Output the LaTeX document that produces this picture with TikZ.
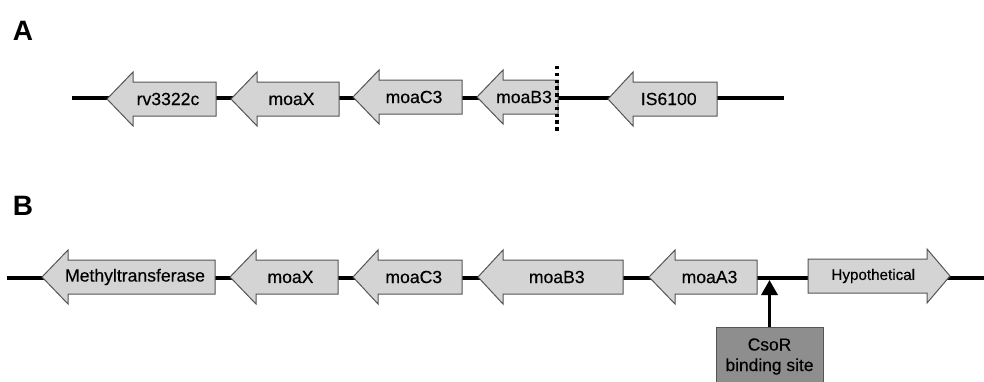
\documentclass[tikz,border=0pt]{standalone}
\usepackage{fontspec}
\setmainfont{Liberation Sans}
\newfontfamily\genefont[FakeBold=0.35]{Liberation Sans}
\usetikzlibrary{arrows.meta,positioning}

\definecolor{genefill}{HTML}{D4D4D4}
\definecolor{genedraw}{HTML}{555555}
\definecolor{sitefill}{HTML}{8E8E8E}

% gene pointing left: name, tip x, head base x, tail x, mid y, label
\newcommand{\geneleft}[6]{%
  \draw[gene] (#2,#5) -- (#3,#5-27) -- (#3,#5-17) -- (#4,#5-17) -- (#4,#5+17) -- (#3,#5+17) -- (#3,#5+27) -- cycle;
  \node[genelabel] (#1) at ({(#2+#3)/4+#4/2},#5) {#6};}
% gene pointing right: name, tail x, head base x, tip x, mid y, label
\newcommand{\generight}[6]{%
  \draw[gene] (#4,#5) -- (#3,#5-27) -- (#3,#5-17) -- (#2,#5-17) -- (#2,#5+17) -- (#3,#5+17) -- (#3,#5+27) -- cycle;
  \node[genelabel] (#1) at ({(#4+#3)/4+#2/2},#5) {#6};}

\begin{document}
\begin{tikzpicture}[x=1pt,y=-1pt,>=Triangle,
  gene/.style={draw=genedraw,fill=genefill,line width=1pt,line join=miter},
  genelabel/.style={font=\genefont\fontsize{17.6}{20}\selectfont,inner sep=0pt},
  dna/.style={line width=3.4pt},
  panel/.style={font=\fontsize{28}{30}\selectfont\bfseries},
  sitebox/.style={draw=genedraw,fill=sitefill,line width=1pt,minimum width=107pt,minimum height=58pt,
    align=center,font=\genefont\fontsize{17.4}{20.5}\selectfont}]
\useasboundingbox (0,0) rectangle (984,381);

% panel A
\node[panel] (labA) at (23,31) {A};
\coordinate (a0) at (72,98);
\coordinate (a1) at (784,98);
\draw[dna] (a0) -- (a1);
\geneleft{rv}{107}{133}{216}{99}{rv3322c}
\geneleft{xa}{231}{257}{339}{99}{moaX}
\geneleft{ca}{353}{379}{462}{97}{moaC3}
\geneleft{ba}{477}{503}{558}{97}{moaB3}
\geneleft{is}{608}{633}{717}{99}{IS6100}
\coordinate (cut0) at (557,66);
\coordinate (cut1) at (557,132);
\draw[line width=3.4pt,dash pattern=on 3.4pt off 3.4pt] (cut0) -- (cut1);

% panel B
\node[panel] (labB) at (23,206) {B};
\coordinate (b0) at (7,278);
\coordinate (b1) at (984,278);
\draw[dna] (b0) -- (b1);
\geneleft{mt}{42}{68}{215}{277}{Methyltransferase}
\geneleft{xb}{230}{256}{338}{277}{moaX}
\geneleft{cb}{353}{378}{462}{277}{moaC3}
\geneleft{bb}{478}{503}{623}{277}{moaB3}
\geneleft{ab}{649}{675}{757}{277}{moaA3}
\generight{hyp}{808}{927}{950}{276}{\fontsize{15.2}{18}\selectfont Hypothetical}
\node[sitebox,anchor=north] (csor) at (769.5,327) {CsoR\\binding site};
\coordinate (site) at (769.5,280);
\draw[->,line width=3.4pt,-{Triangle[width=16pt,length=15pt]}] (csor.north) -- (site);
\end{tikzpicture}
\end{document}
